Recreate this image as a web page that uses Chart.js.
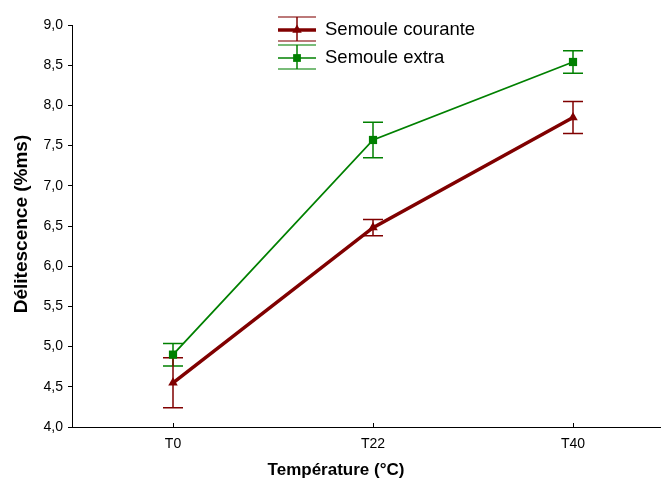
<!DOCTYPE html>
<html lang="fr">
<head>
    <meta charset="UTF-8">
    <title>Délitescence</title>
    <script src="https://cdn.jsdelivr.net/npm/chart.js"></script>
    <style>
        html, body { margin: 0; padding: 0; background: #fff; }
        #wrap { width: 661px; height: 485px; }
    </style>
</head>
<body>
    <div id="wrap"><canvas id="chart" width="661" height="485"></canvas></div>

    <script>
        // données
        const temperatures = ['T0', 'T22', 'T40'];
        const courante = [4.55, 6.48, 7.85];
        const couranteErr = [0.31, 0.10, 0.20];
        const extra = [4.90, 7.57, 8.54];
        const extraErr = [0.14, 0.22, 0.14];
        const yTicks = [4.0, 4.5, 5.0, 5.5, 6.0, 6.5, 7.0, 7.5, 8.0, 8.5, 9.0];

        const RED = '#800000';
        const GREEN = '#008000';
        const FONT = '"Liberation Sans", Arial, sans-serif';

        function toPoints(vals) {
            return vals.map((v, i) => ({ x: i, y: v }));
        }

        // barres d'erreur, petits traits de l'axe x, titres et légende
        const extras = {
            id: 'extras',
            beforeDatasetsDraw(chart) {
                const ctx = chart.ctx;
                const xs = chart.scales.x, ys = chart.scales.y;
                const sets = [[extra, extraErr, GREEN], [courante, couranteErr, RED]];
                ctx.save();
                ctx.lineWidth = 1.5;
                sets.forEach(([vals, errs, col]) => {
                    ctx.strokeStyle = col;
                    vals.forEach((v, i) => {
                        const px = xs.getPixelForValue(i);
                        const top = ys.getPixelForValue(v + errs[i]);
                        const bot = ys.getPixelForValue(v - errs[i]);
                        ctx.beginPath();
                        ctx.moveTo(px, top); ctx.lineTo(px, bot);
                        ctx.moveTo(px - 10, top); ctx.lineTo(px + 10, top);
                        ctx.moveTo(px - 10, bot); ctx.lineTo(px + 10, bot);
                        ctx.stroke();
                    });
                });
                // ticks de l'axe x vers l'intérieur
                ctx.strokeStyle = '#000';
                ctx.lineWidth = 1;
                temperatures.forEach((t, i) => {
                    const px = Math.round(xs.getPixelForValue(i)) + 0.5;
                    ctx.beginPath();
                    ctx.moveTo(px, ys.bottom);
                    ctx.lineTo(px, ys.bottom - 4);
                    ctx.stroke();
                });
                ctx.restore();
            },
            afterDraw(chart) {
                const ctx = chart.ctx;
                ctx.save();
                // titres des axes
                ctx.fillStyle = '#000';
                ctx.textAlign = 'center';
                ctx.textBaseline = 'middle';
                ctx.font = 'bold 17px ' + FONT;
                ctx.fillText('Température (°C)', 336, 470);
                ctx.save();
                ctx.translate(22, 224);
                ctx.rotate(-Math.PI / 2);
                ctx.font = 'bold 19px ' + FONT;
                ctx.fillText('Délitescence (%ms)', 0, 0);
                ctx.restore();

                const items = [
                    ['Semoule courante', RED, 3.5, 'triangle'],
                    ['Semoule extra', GREEN, 1.5, 'rect']
                ];
                ctx.textAlign = 'left';
                items.forEach(([txt, col, lw, style], k) => {
                    const cy = 30 + k * 28;
                    const x0 = 278, x1 = 316, mx = 297;
                    ctx.strokeStyle = col;
                    ctx.lineWidth = 1.5;
                    ctx.globalAlpha = 0.7;
                    ctx.beginPath();
                    ctx.moveTo(x0, cy - 13); ctx.lineTo(x1, cy - 13);
                    ctx.moveTo(x0, cy + 11); ctx.lineTo(x1, cy + 11);
                    ctx.stroke();
                    ctx.globalAlpha = 1;
                    ctx.beginPath();
                    ctx.moveTo(mx, cy - 13); ctx.lineTo(mx, cy + 11);
                    ctx.stroke();
                    ctx.lineWidth = lw;
                    ctx.beginPath();
                    ctx.moveTo(x0, cy); ctx.lineTo(x1, cy);
                    ctx.stroke();
                    ctx.fillStyle = col;
                    Chart.helpers.drawPoint(ctx, { pointStyle: style, radius: 5.5, borderWidth: 0 }, mx, cy);
                    ctx.fillStyle = '#000';
                    ctx.font = '18.5px ' + FONT;
                    ctx.fillText(txt, 325, cy);
                });
                ctx.restore();
            }
        };

        new Chart(document.getElementById('chart'), {
            type: 'line',
            data: {
                datasets: [{
                    label: 'Semoule extra',
                    data: toPoints(extra),
                    borderColor: GREEN,
                    backgroundColor: GREEN,
                    borderWidth: 1.8,
                    pointStyle: 'rect',
                    pointRadius: 5.8,
                    pointBorderWidth: 0,
                    tension: 0
                }, {
                    label: 'Semoule courante',
                    data: toPoints(courante),
                    borderColor: RED,
                    backgroundColor: RED,
                    borderWidth: 3.5,
                    pointStyle: 'triangle',
                    pointRadius: 5.5,
                    pointBorderWidth: 0,
                    tension: 0
                }]
            },
            options: {
                responsive: false,
                animation: false,
                layout: { autoPadding: false, padding: { top: 25, right: 0, left: 0, bottom: 0 } },
                plugins: {
                    legend: { display: false },
                    tooltip: { enabled: false }
                },
                scales: {
                    x: {
                        type: 'linear',
                        min: -0.505,
                        max: 2.44,
                        afterBuildTicks: s => { s.ticks = temperatures.map((t, i) => ({ value: i })); },
                        afterFit: s => { s.height = 58; },
                        grid: { display: false, drawOnChartArea: false },
                        border: { color: '#000', width: 1 },
                        ticks: {
                            callback: v => temperatures[v],
                            color: '#000',
                            font: { family: FONT, size: 14 },
                            padding: 1,
                            maxRotation: 0
                        },
                        title: { display: false }
                    },
                    y: {
                        min: 4,
                        max: 9,
                        afterBuildTicks: s => { s.ticks = yTicks.map(v => ({ value: v })); },
                        afterFit: s => { s.width = 72; },
                        grid: { drawOnChartArea: false, tickLength: 4, color: '#000' },
                        border: { color: '#000', width: 1 },
                        ticks: {
                            callback: v => v.toFixed(1).replace('.', ','),
                            color: '#000',
                            font: { family: FONT, size: 14 },
                            padding: 5
                        },
                        title: { display: false }
                    }
                }
            },
            plugins: [extras]
        });
    </script>
</body>
</html>
